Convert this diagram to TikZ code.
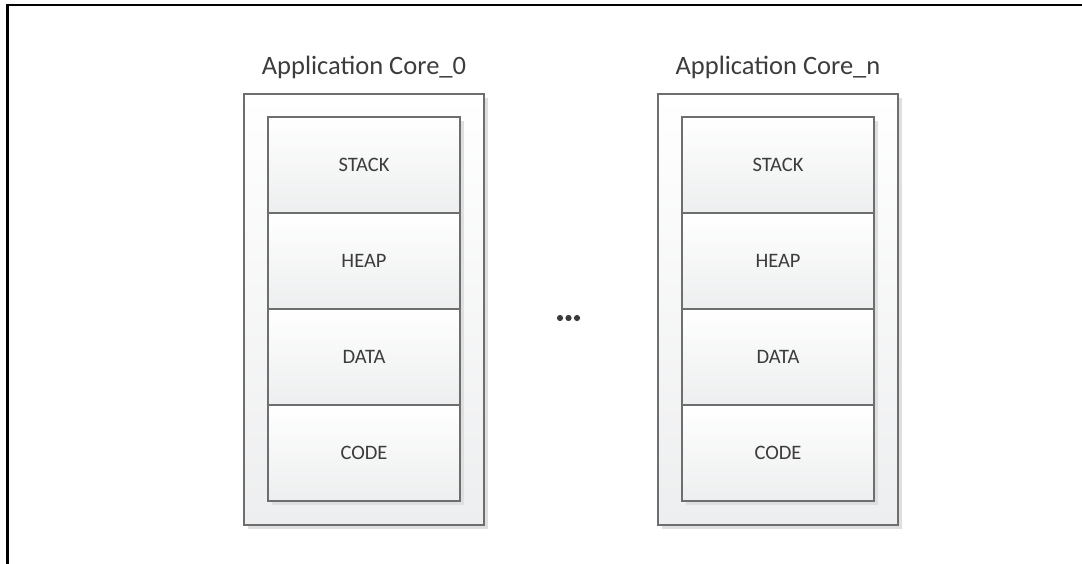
\documentclass[tikz,border=0pt]{standalone}
\usepackage{fontspec}
\setmainfont{Carlito}
\definecolor{edge}{HTML}{6E6E6E}
\definecolor{shade}{HTML}{DEDFE0}
\definecolor{paleend}{HTML}{EDEEEF}
\definecolor{ink}{HTML}{3C3C3C}
\tikzset{
  frame/.style={line width=2.4pt, black},
  shadowed/.style={preaction={fill=shade, transform canvas={shift={(4pt,-4pt)}}}},
  outerbox/.style={draw=edge, line width=1.4pt, rectangle, inner sep=0pt, outer sep=0pt,
    minimum width=240pt, minimum height=431pt, top color=white, bottom color=paleend, shadowed},
  cellbox/.style={draw=edge, line width=1.4pt, rectangle, inner sep=0pt, outer sep=0pt,
    minimum width=192pt, minimum height=96pt, top color=white, bottom color=paleend,
    text=ink, font=\fontsize{20.5pt}{24pt}\selectfont},
  ttl/.style={anchor=base, inner sep=0pt, text=ink, font=\fontsize{26.5pt}{30pt}\selectfont},
  dotmark/.style={circle, fill=ink, inner sep=0pt, minimum size=6.2pt},
}
\begin{document}
\begin{tikzpicture}[x=1pt,y=-1pt]
\useasboundingbox (0,0) rectangle (1082,564);
% page frame, open on the right
\coordinate (fbl) at (7.5,564);
\coordinate (ftr) at (1082,5);
\draw[frame] (fbl) |- (ftr);

% first core
\node[ttl] (t0) at (364,75) {Application Core\_0};
\node[outerbox] (core0) at (364,309.5) {};
\node[shadowed, cellbox, draw=none, minimum width=192pt, minimum height=384pt] (s0) at (364,309) {};
\node[cellbox] (c0stack) at (364,165) {STACK};
\node[cellbox] (c0heap)  at (364,261) {HEAP};
\node[cellbox] (c0data)  at (364,357) {DATA};
\node[cellbox] (c0code)  at (364,453) {CODE};

% last core
\node[ttl] (tn) at (778,75) {Application Core\_n};
\node[outerbox] (coren) at (778,309.5) {};
\node[shadowed, cellbox, draw=none, minimum width=192pt, minimum height=384pt] (sn) at (778,309) {};
\node[cellbox] (cnstack) at (778,165) {STACK};
\node[cellbox] (cnheap)  at (778,261) {HEAP};
\node[cellbox] (cndata)  at (778,357) {DATA};
\node[cellbox] (cncode)  at (778,453) {CODE};

% ellipsis between the cores
\node[dotmark] (d1) at (560,318) {};
\node[dotmark] (d2) at (568.5,318) {};
\node[dotmark] (d3) at (577,318) {};
\end{tikzpicture}
\end{document}
